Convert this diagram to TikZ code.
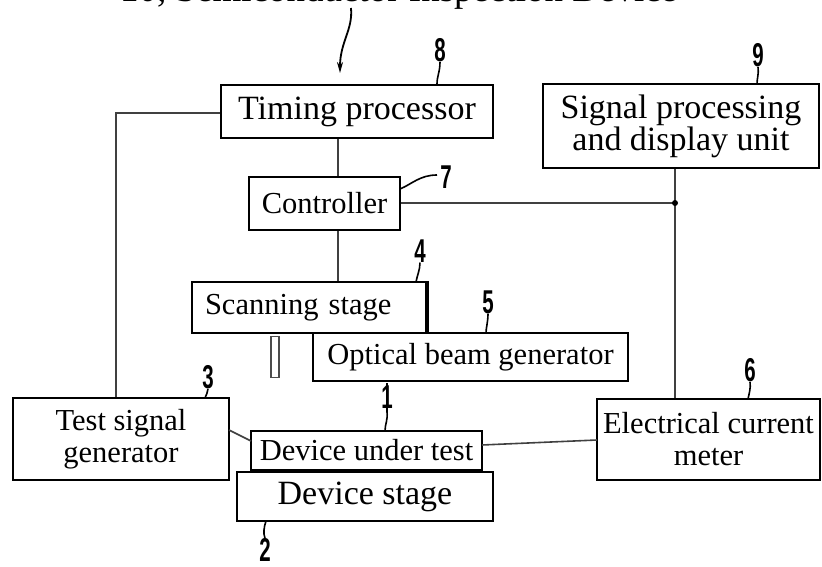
\documentclass[tikz,border=0pt]{standalone}
\usepackage{fontspec}
\setmainfont{Liberation Serif}
\newfontfamily\digitfont{Liberation Sans}
\usetikzlibrary{arrows.meta}
\newcommand{\bigfs}{\fontsize{34}{32}\selectfont}
\newcommand{\midfs}{\fontsize{30.5}{32}\selectfont}
\newcommand{\titlefs}{\fontsize{37}{40}\selectfont}
\tikzset{
  box/.style={draw=black, line width=2.2pt, inner sep=0pt, align=center, fill=white},
  conn/.style={draw=black!75, line width=1.6pt},
  leader/.style={draw=black, line width=1.6pt},
  refnum/.style={font=\digitfont\bfseries\fontsize{33}{33}\selectfont, xscale=0.62, transform shape, inner sep=0pt},
}
\begin{document}
\begin{tikzpicture}[x=1pt, y=-1pt]
\useasboundingbox (0,0) rectangle (822,567);
\clip (0,0) rectangle (822,567);

% title (cut off at top, as in the reference)
\node[anchor=base west, font=\titlefs, inner sep=0pt] (title) at (120,2) {10, Semiconductor Inspection Device};

% boxes
\node[box, minimum width=272pt, minimum height=53pt, font=\bigfs] (timing) at (357,111.5) {Timing processor};
\node[box, minimum width=151pt, minimum height=53pt, font=\midfs] (ctrl) at (324.5,203.5) {Controller};
\node[box, minimum width=276pt, minimum height=84pt, font=\bigfs] (sig) at (681,126) {Signal processing\\and display unit};
\node[box, minimum width=234pt, minimum height=51pt, font=\midfs, text width=208pt, align=left] (scan) at (309,307.5) {Scanning stage};
\node[box, minimum width=315pt, minimum height=48pt, font=\midfs] (obg) at (470.5,357) {Optical beam generator};
\node[box, minimum width=216pt, minimum height=82pt, font=\midfs] (tsg) at (121,439) {Test signal\\generator};
\node[box, minimum width=256pt, minimum height=49pt, font=\bigfs] (dstage) at (365,496.5) {Device stage};
\node[box, minimum width=231pt, minimum height=39pt, font=\midfs] (dut) at (366.5,450.5) {Device under test};
\node[box, minimum width=223pt, minimum height=81pt, font=\midfs] (ecm) at (708.5,439.5) {Electrical current\\meter};

% thicker right edge of scanning stage
\draw[line width=3.2pt] (scan.north east) -- (scan.south east);

% small probe rectangle under scanning stage
\node[draw=black!70, line width=1.3pt, minimum width=8pt, minimum height=41pt, inner sep=0pt] (probe) at (275,357) {};

% helper coordinates
\coordinate (lx) at (116,0);
\coordinate (vx) at (338,0);
\coordinate (rx) at (675,0);
\coordinate (tp) at (116,113);
\coordinate (tsgout) at (229,430);
\coordinate (dutin) at (251,441);
\coordinate (dutout) at (482,445);
\coordinate (ecmin) at (597,440);
\coordinate (junc) at (675,203);

% connectors
\draw[conn] (timing.west |- tp) -- (tp) -- (tsg.north -| lx);
\draw[conn] (timing.south -| vx) -- (ctrl.north -| vx);
\draw[conn] (ctrl.south -| vx) -- (scan.north -| vx);
\draw[conn] (ctrl.east |- junc) -- (junc);
\draw[conn] (sig.south -| rx) -- (ecm.north -| rx);
\fill (junc) circle (3pt);
\draw[conn] (tsgout) -- (dutin);
\draw[conn] (dutout) -- (ecmin);

% title arrow
\coordinate (arrS) at (351,8);
\coordinate (arrE) at (340,73);
\draw[line width=1.8pt, -{Stealth[length=11pt, width=6pt]}] (arrS) .. controls (353,30) and (340,42) .. (arrE);

% reference numerals with leaders
\node[refnum] (n8) at (440,50) {8};
\coordinate (l8) at (437,84);
\draw[leader] (n8.south) .. controls (440,72) and (437,76) .. (l8);

\node[refnum] (n9) at (758,55) {9};
\coordinate (l9) at (757,84);
\draw[leader] (n9.south) .. controls (759,74) and (757,78) .. (l9);

\node[refnum] (n7) at (446,177) {7};
\coordinate (l7a) at (400,189);
\coordinate (l7b) at (437,175);
\draw[leader] (l7a) .. controls (412,184) and (420,175) .. (l7b);

\node[refnum] (n4) at (420,251) {4};
\coordinate (l4) at (416,282);
\draw[leader] (n4.south) .. controls (420,270) and (417,276) .. (l4);

\node[refnum] (n5) at (488,302) {5};
\coordinate (l5) at (486,333);
\draw[leader] (n5.south) .. controls (488,322) and (486,328) .. (l5);

\node[refnum] (n3) at (208,377) {3};
\coordinate (l3) at (205,398);
\draw[leader] (n3.south) .. controls (208,392) and (206,395) .. (l3);

\node[refnum] (n1) at (387,397) {1};
\coordinate (l1a) at (387,383);
\coordinate (l1b) at (385,431);
\draw[leader] (l1a) -- (387,412) .. controls (388,420) and (385,424) .. (l1b);

\node[refnum] (n6) at (750,370) {6};
\coordinate (l6) at (748,399);
\draw[leader] (n6.south) .. controls (751,388) and (749,394) .. (l6);

\node[refnum] (n2) at (265,550) {2};
\coordinate (l2) at (266,521);
\draw[leader] (l2) .. controls (264,527) and (263,533) .. (n2.north);
\end{tikzpicture}
\end{document}
